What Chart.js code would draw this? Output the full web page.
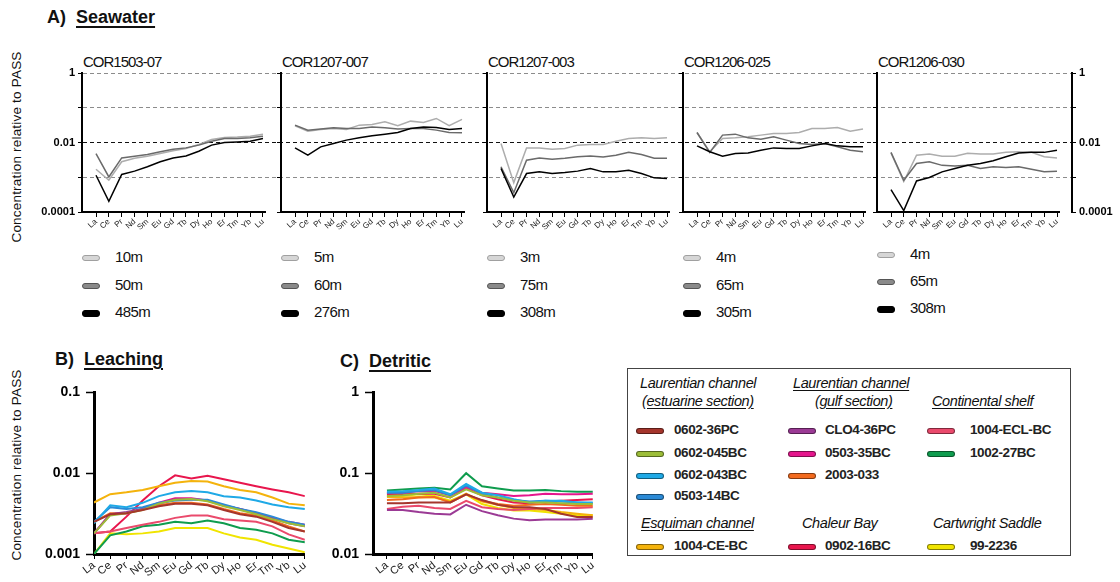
<!DOCTYPE html>
<html><head><meta charset="utf-8">
<script src="https://cdn.jsdelivr.net/npm/chart.js@4.4.1/dist/chart.umd.min.js"></script>
<style>
body{margin:0;background:#fff;}
#wrap{position:relative;width:1120px;height:582px;overflow:hidden;background:#fff;font-family:"Liberation Sans",Arial,sans-serif;color:#111;}
.t{position:absolute;white-space:nowrap;line-height:18px;}
canvas{position:absolute;}
.head{font-size:18px;font-weight:bold;}
.head u{text-decoration-thickness:1.5px;text-underline-offset:3px;}
.ptitle{font-size:15px;letter-spacing:-1px;}
.ylab{font-size:13.5px;width:240px;text-align:center;transform:rotate(-90deg);letter-spacing:0.2px;}
.dep{font-size:15px;letter-spacing:-0.6px;}
.dsw{position:absolute;width:16px;height:4px;border-radius:3px;}
.box{position:absolute;left:627px;top:368px;width:442px;height:186px;border:1px solid #444;}
.lh{font-size:14.5px;font-style:italic;letter-spacing:-0.4px;}
.lh.u{text-decoration:underline;text-underline-offset:2px;}
.li{font-size:13.5px;font-weight:bold;letter-spacing:-0.4px;color:#222;}
.sw{position:absolute;width:26px;height:4px;border-radius:3px;}
</style></head><body><div id="wrap">
<div class="t head" style="left:47px;top:8px;">A)&nbsp;&nbsp;<u>Seawater</u></div>
<div class="t head" style="left:55px;top:350px;">B)&nbsp;&nbsp;<u>Leaching</u></div>
<div class="t head" style="left:340px;top:352px;">C)&nbsp;&nbsp;<u>Detritic</u></div>
<div class="t ylab" style="left:-103px;top:138px;">Concentration relative to PASS</div>
<div class="t ylab" style="left:-103px;top:456px;">Concentration relative to PASS</div>
<div class="box"></div>
</div>
<script>
// ---------------- DATA ----------------
const elements = ['La','Ce','Pr','Nd','Sm','Eu','Gd','Tb','Dy','Ho','Er','Tm','Yb','Lu'];
const seawaterStations = ['COR1503-07','COR1207-007','COR1207-003','COR1206-025','COR1206-030'];
const depthLabels = [['10m','50m','485m'],['5m','60m','276m'],['3m','75m','308m'],['4m','65m','305m'],['4m','65m','308m']];
const seawaterTicks = [0.0001,0.001,0.01,0.1,1];
const seawaterLabelled = [0.0001,0.01,1];
const sedimentTicksLeach = [0.001,0.01,0.1];
const sedimentTicksDetr = [0.01,0.1,1];

// Seawater, station COR1503-07
const sw1_10m  = [0.0017,0.00082,0.0028,0.0035,0.0040,0.0048,0.0058,0.0067,0.0088,0.0122,0.0139,0.0143,0.0152,0.0174];
const sw1_50m  = [0.0048,0.00102,0.0036,0.0040,0.0045,0.0054,0.0064,0.0070,0.0084,0.0109,0.0130,0.0130,0.0136,0.0152];
const sw1_485m = [0.00114,0.000203,0.0012,0.0015,0.0020,0.0028,0.0036,0.0041,0.0056,0.0084,0.0100,0.0104,0.0109,0.0130];
// COR1207-007
const sw2_5m   = [0.0303,0.0212,0.0237,0.0254,0.0237,0.0316,0.0330,0.0394,0.0303,0.0412,0.0377,0.0492,0.0303,0.0461];
const sw2_60m  = [0.0316,0.0227,0.0243,0.0265,0.0254,0.0254,0.0277,0.0265,0.0243,0.0254,0.0254,0.0227,0.0194,0.0190];
const sw2_276m = [0.0070,0.0043,0.0075,0.0094,0.0117,0.0136,0.0156,0.0174,0.0194,0.0254,0.0277,0.0271,0.0237,0.0254];
// COR1207-003
const sw3_3m   = [0.0094,0.0007,0.0070,0.0070,0.0064,0.0067,0.0084,0.0088,0.0088,0.0109,0.0130,0.0136,0.0130,0.0136];
const sw3_75m  = [0.0020,0.00036,0.0031,0.0036,0.0033,0.0035,0.0039,0.0041,0.0038,0.0043,0.0052,0.0045,0.0035,0.0035];
const sw3_308m = [0.00178,0.00027,0.00128,0.00143,0.00128,0.00136,0.0015,0.00178,0.00143,0.00143,0.0016,0.00128,0.00096,0.00092];
// COR1206-025
const sw4_4m   = [0.0194,0.0054,0.0130,0.0136,0.0146,0.0163,0.0182,0.0182,0.0194,0.0254,0.0254,0.0271,0.0212,0.0243];
const sw4_65m  = [0.0194,0.0052,0.0163,0.0174,0.0136,0.0125,0.0146,0.0117,0.0094,0.0088,0.0094,0.0075,0.0060,0.0054];
const sw4_305m = [0.0080,0.0054,0.0040,0.0048,0.0050,0.0060,0.0070,0.0067,0.0067,0.0080,0.0094,0.0080,0.0075,0.0075];
// COR1206-030
const sw5_4m   = [0.0050,0.00075,0.0043,0.0047,0.0040,0.0040,0.0049,0.0047,0.0047,0.0052,0.0054,0.0052,0.0039,0.0036];
const sw5_65m  = [0.0052,0.00082,0.0025,0.0028,0.0022,0.0021,0.0022,0.00178,0.0020,0.0019,0.0020,0.0017,0.00143,0.0015];
const sw5_308m = [0.00044,0.00011,0.00078,0.00098,0.00143,0.00178,0.0022,0.0025,0.0030,0.0039,0.0050,0.0052,0.0052,0.0060];

const sampleNames = ['0602-36PC','0602-045BC','0602-043BC','0503-14BC','CLO4-36PC','0503-35BC','2003-033','1004-ECL-BC','1002-27BC','1004-CE-BC','0902-16BC','99-2236'];
// Leaching
const L_0602_36PC  = [0.0025,0.0031,0.0032,0.0035,0.0039,0.0042,0.0042,0.0040,0.0035,0.0031,0.0029,0.0025,0.0021,0.0019];
const L_0602_045BC = [0.0018,0.0030,0.0032,0.0035,0.0042,0.0047,0.0048,0.0045,0.0039,0.0035,0.0031,0.0027,0.0024,0.0022];
const L_0602_043BC = [0.0024,0.0040,0.0038,0.0043,0.0052,0.0058,0.0060,0.0058,0.0052,0.0050,0.0046,0.0041,0.0038,0.0036];
const L_0503_14BC  = [0.0025,0.0038,0.0036,0.0038,0.0043,0.0046,0.0047,0.0047,0.0041,0.0036,0.0033,0.0029,0.0025,0.0023];
const L_CLO4_36PC  = [0.0018,0.0031,0.0033,0.0036,0.0042,0.0047,0.0048,0.0046,0.0040,0.0036,0.0032,0.0028,0.0024,0.0022];
const L_0503_35BC  = [0.0018,0.0031,0.0032,0.0036,0.0043,0.0049,0.0049,0.0046,0.0040,0.0036,0.0032,0.0028,0.0025,0.0023];
const L_2003_033   = [0.0025,0.0032,0.0032,0.0036,0.0040,0.0043,0.0043,0.0041,0.0036,0.0032,0.0030,0.0026,0.0022,0.0019];
const L_1004_ECL_BC= [0.0018,0.0019,0.0021,0.0023,0.0025,0.0028,0.0030,0.0030,0.0027,0.0026,0.0025,0.0022,0.00175,0.0015];
const L_1002_27BC  = [0.0010,0.0017,0.0019,0.0022,0.0023,0.0025,0.0024,0.0026,0.0024,0.0021,0.0020,0.0018,0.0015,0.0014];
const L_1004_CE_BC = [0.00434,0.0055,0.0058,0.0062,0.0069,0.0076,0.0080,0.0079,0.0069,0.0062,0.0058,0.0050,0.0042,0.0040];
const L_0902_16BC  = [0.0018,0.0019,0.0029,0.0046,0.0069,0.0094,0.0086,0.0093,0.0084,0.0076,0.0069,0.0063,0.0058,0.0052];
const L_99_2236    = [0.0010,0.0018,0.00175,0.0018,0.0019,0.0021,0.0021,0.0021,0.0018,0.0016,0.0015,0.0013,0.00117,0.00105];
// Detritic
const D_0602_36PC  = [0.0424,0.0424,0.0435,0.0435,0.0435,0.0548,0.0465,0.0407,0.0379,0.0379,0.0361,0.0315,0.0287,0.0287];
const D_0602_045BC = [0.0524,0.0533,0.0558,0.0574,0.0500,0.0630,0.0533,0.0500,0.0456,0.0435,0.0435,0.0424,0.0415,0.0415];
const D_0602_043BC = [0.0590,0.0600,0.0618,0.0647,0.0548,0.0736,0.0574,0.0533,0.0477,0.0435,0.0456,0.0456,0.0435,0.0435];
const D_0503_14BC  = [0.0574,0.0574,0.0600,0.0618,0.0533,0.0700,0.0558,0.0500,0.0465,0.0445,0.0456,0.0445,0.0435,0.0424];
const D_CLO4_36PC  = [0.0351,0.0351,0.0330,0.0315,0.0309,0.0407,0.0339,0.0301,0.0274,0.0262,0.0267,0.0267,0.0267,0.0274];
const D_0503_35BC  = [0.0574,0.0574,0.0600,0.0600,0.0533,0.0672,0.0574,0.0548,0.0524,0.0533,0.0558,0.0548,0.0548,0.0558];
const D_2003_033   = [0.0465,0.0477,0.0500,0.0509,0.0435,0.0548,0.0456,0.0415,0.0396,0.0407,0.0415,0.0407,0.0396,0.0396];
const D_1004_ECL_BC= [0.0361,0.0385,0.0396,0.0372,0.0361,0.0456,0.0379,0.0361,0.0351,0.0361,0.0372,0.0372,0.0372,0.0379];
const D_1002_27BC  = [0.0612,0.0630,0.0647,0.0660,0.0630,0.1000,0.0690,0.0647,0.0612,0.0612,0.0618,0.0600,0.0590,0.0590];
const D_1004_CE_BC = [0.0509,0.0500,0.0509,0.0500,0.0445,0.0558,0.0445,0.0407,0.0372,0.0361,0.0351,0.0330,0.0315,0.0301];
const D_0902_16BC  = [0.0548,0.0548,0.0558,0.0558,0.0500,0.0650,0.0533,0.0477,0.0435,0.0424,0.0445,0.0456,0.0465,0.0477];
const D_99_2236    = [0.0524,0.0524,0.0548,0.0524,0.0456,0.0548,0.0415,0.0372,0.0345,0.0345,0.0330,0.0315,0.0301,0.0301];

const seawaterSeries = [[sw1_10m,sw1_50m,sw1_485m],[sw2_5m,sw2_60m,sw2_276m],[sw3_3m,sw3_75m,sw3_308m],[sw4_4m,sw4_65m,sw4_305m],[sw5_4m,sw5_65m,sw5_308m]];
const leachSeries = [L_0602_36PC,L_0602_045BC,L_0602_043BC,L_0503_14BC,L_CLO4_36PC,L_0503_35BC,L_2003_033,L_1004_ECL_BC,L_1002_27BC,L_1004_CE_BC,L_0902_16BC,L_99_2236];
const detrSeries  = [D_0602_36PC,D_0602_045BC,D_0602_043BC,D_0503_14BC,D_CLO4_36PC,D_0503_35BC,D_2003_033,D_1004_ECL_BC,D_1002_27BC,D_1004_CE_BC,D_0902_16BC,D_99_2236];
const groupHeads = [
  {lines:['Laurentian channel','(estuarine section)'], members:[0,1,2,3]},
  {lines:['Laurentian channel','(gulf section)'], members:[4,5,6]},
  {lines:['Continental shelf'], members:[7,8]},
  {lines:['Esquiman channel'], members:[9]},
  {lines:['Chaleur Bay'], members:[10]},
  {lines:['Cartwright Saddle'], members:[11]}
];

// ---------------- STYLE / LAYOUT ----------------
const depthColors = ['#adadad','#6a6a6a','#000000'];
const sampleColors = ['#a5352c','#9cbd38','#1fa9e6','#2b8ad6','#9b3a95','#e5168d','#f26a1e','#ea4a6c','#0f9c4e','#f4b30c','#e8164d','#f0e400'];
const panelAxes = [[82,265],[281,464],[487,669],[683,865],[877,1059]];
const wrap = document.getElementById('wrap');
Chart.defaults.font.family = '"Liberation Sans", Arial, sans-serif';
Chart.defaults.color = '#000';
Chart.defaults.animation = false;

function mkCanvas(l,t,w,h,z){
  const c=document.createElement('canvas');
  c.width=w;c.height=h;c.style.left=l+'px';c.style.top=t+'px';c.style.width=w+'px';c.style.height=h+'px';c.style.zIndex=z;
  wrap.appendChild(c);return c;
}
function txt(s,l,t,cls,extra){
  const d=document.createElement('div');d.className='t '+cls;d.style.left=l+'px';d.style.top=t+'px';
  if(extra) d.style.cssText+=extra;d.textContent=s;wrap.appendChild(d);return d;
}
const noPlug={legend:{display:false},tooltip:{enabled:false},title:{display:false}};
const pts = arr => arr.map((v,i)=>({x:i,y:v}));
const fixTicks = list => (s)=>{ s.ticks = list.map(v=>({value:v})); };
const intTicks = (s)=>{ s.ticks = elements.map((e,i)=>({value:i})); };

// Background: dashed reference lines + left/right labelled axes of the seawater row
new Chart(mkCanvas(0,60,1120,165,1),{
  type:'line',data:{labels:[],datasets:[]},
  options:{responsive:false,animation:false,plugins:noPlug,
    layout:{padding:{top:13,bottom:13,left:0,right:0}},
    scales:{
      x:{display:false},
      y:{type:'logarithmic',position:'left',min:0.0001,max:1,
        afterFit:s=>{s.width=82;},afterBuildTicks:fixTicks(seawaterTicks),
        ticks:{autoSkip:false,padding:3,font:{size:11,weight:'bold'},color:'#000',
          callback:v=>seawaterLabelled.includes(v)?String(v):''},
        grid:{drawOnChartArea:true,drawTicks:true,tickLength:4,tickColor:'#000',tickWidth:1,lineWidth:1,
          color:c=>{const v=c.tick?c.tick.value:null; if(v===0.0001) return 'rgba(0,0,0,0)'; return v===0.01?'#111':'#8c8c8c';}},
        border:{display:true,color:'#000',width:2,dash:[4,3]}},
      y2:{type:'logarithmic',position:'right',min:0.0001,max:1,
        afterFit:s=>{s.width=48;},afterBuildTicks:fixTicks(seawaterTicks),
        ticks:{autoSkip:false,padding:3,font:{size:11,weight:'bold'},color:'#000',
          callback:v=>seawaterLabelled.includes(v)?String(v):''},
        grid:{drawOnChartArea:false,drawTicks:true,tickLength:4,tickColor:'#000'},
        border:{display:true,color:'#000',width:2}}
    }}
});

// Seawater panels
seawaterSeries.forEach((series,k)=>{
  const [ax,ex]=panelAxes[k];
  const yW=6, left=ax-yW, width=ex-left+6;
  const sp=(ex-2-(ax+14))/13;
  const ds=series.map((arr,j)=>({data:pts(arr),borderColor:depthColors[j],borderWidth:1.5,pointRadius:0,tension:0,fill:false,order:2-j}));
  new Chart(mkCanvas(left,60,width,195,2),{
    type:'line',data:{datasets:ds},
    options:{responsive:false,animation:false,plugins:noPlug,
      layout:{padding:{top:13,right:6,bottom:0,left:0}},
      scales:{
        x:{type:'linear',min:-14/sp,max:13+2/sp,afterBuildTicks:intTicks,afterFit:s=>{s.height=43;},
          ticks:{autoSkip:false,minRotation:42,maxRotation:42,padding:0,font:{size:8},color:'#222',callback:v=>elements[v]||''},
          grid:{drawOnChartArea:false,drawTicks:true,tickLength:5,tickColor:'#000',tickWidth:1},
          border:{color:'#000',width:2}},
        y:{type:'logarithmic',min:0.0001,max:1,afterFit:s=>{s.width=yW;},afterBuildTicks:fixTicks(seawaterTicks),
          ticks:{display:false},
          grid:{drawOnChartArea:false,drawTicks:true,tickLength:4,tickColor:'#000'},
          border:{color:'#000',width:2}}
      }}
  });
  txt(seawaterStations[k],ax+1,53,'ptitle');
  const rows = k===4?[254,281,308]:[257,285,312];
  depthLabels[k].forEach((lab,j)=>{
    const d=document.createElement('div');d.className='dsw';
    d.style.left=ax+'px';d.style.top=(rows[j]-2)+'px';
    if(j===0){d.style.background='#d6d6d6';d.style.border='1px solid #a0a0a0';}
    else if(j===1){d.style.background='#8a8a8a';d.style.border='1px solid #555';}
    else {d.style.background='#000';d.style.border='1px solid #000';d.style.height='5px';}
    wrap.appendChild(d);
    txt(lab,ax+33,rows[j]-9,'dep');
  });
});

// Sediment panels
function sedChart(l,axisX,rightX,ticksList,xmin,series){
  const yW=axisX-l, width=rightX-l+8;
  const ds=series.map((arr,j)=>({data:pts(arr),borderColor:sampleColors[j],borderWidth:2,pointRadius:0,tension:0,fill:false}));
  new Chart(mkCanvas(l,378,width,204,2),{
    type:'line',data:{datasets:ds},
    options:{responsive:false,animation:false,plugins:noPlug,
      layout:{padding:{top:10,right:8,bottom:0,left:0}},
      scales:{
        x:{type:'linear',min:xmin,max:13,afterBuildTicks:intTicks,afterFit:s=>{s.height=28;},
          ticks:{autoSkip:false,minRotation:38,maxRotation:38,padding:0,font:{size:11},color:'#222',callback:v=>elements[v]||''},
          grid:{drawOnChartArea:false,drawTicks:true,tickLength:5,tickColor:'#000',tickWidth:1},
          border:{color:'#000',width:3}},
        y:{type:'logarithmic',min:ticksList[0],max:ticksList[2],afterFit:s=>{s.width=yW;},afterBuildTicks:fixTicks(ticksList),
          ticks:{autoSkip:false,padding:6,font:{size:14,weight:'bold'},color:'#000',callback:v=>String(v)},
          grid:{drawOnChartArea:false,drawTicks:true,tickLength:8,tickColor:'#000',tickWidth:1.5},
          border:{color:'#000',width:3}}
      }}
  });
}
sedChart(20,94,305,sedimentTicksLeach,0,leachSeries);
sedChart(300,373,593,sedimentTicksDetr,-0.88,detrSeries);

// Legend box content
const headPos=[[640,793,932,641,802,933]];
const colX=[636,788,927];
const itemTextX=[674,825,970];
const itemRows=[430,453,475,496];
function headLines(g,x,y,und){
  g.lines.forEach((s,i)=>{const d=txt(s,x+(i===1&&g.lines[0].length>14&&s.length<16?22:(i===1?2:0)),y+i*18-9,'lh'+(und[i]?' u':''));});
}
headLines(groupHeads[0],640,383,[false,true]);
headLines(groupHeads[1],793,383,[true,true]);
headLines(groupHeads[2],932,401,[true]);
headLines(groupHeads[3],641,523,[true]);
headLines(groupHeads[4],802,523,[false]);
headLines(groupHeads[5],933,523,[false]);
function item(idx,col,y){
  const s=document.createElement('div');s.className='sw';
  s.style.left=colX[col]+'px';s.style.top=(y-2)+'px';s.style.background=sampleColors[idx];
  s.style.border='1px solid rgba(0,0,0,0.45)';wrap.appendChild(s);
  txt(sampleNames[idx],itemTextX[col],y-9,'li');
}
groupHeads[0].members.forEach((m,i)=>item(m,0,itemRows[i]));
groupHeads[1].members.forEach((m,i)=>item(m,1,itemRows[i]));
groupHeads[2].members.forEach((m,i)=>item(m,2,itemRows[i]));
item(groupHeads[3].members[0],0,546);
item(groupHeads[4].members[0],1,546);
item(groupHeads[5].members[0],2,546);
</script></body></html>
